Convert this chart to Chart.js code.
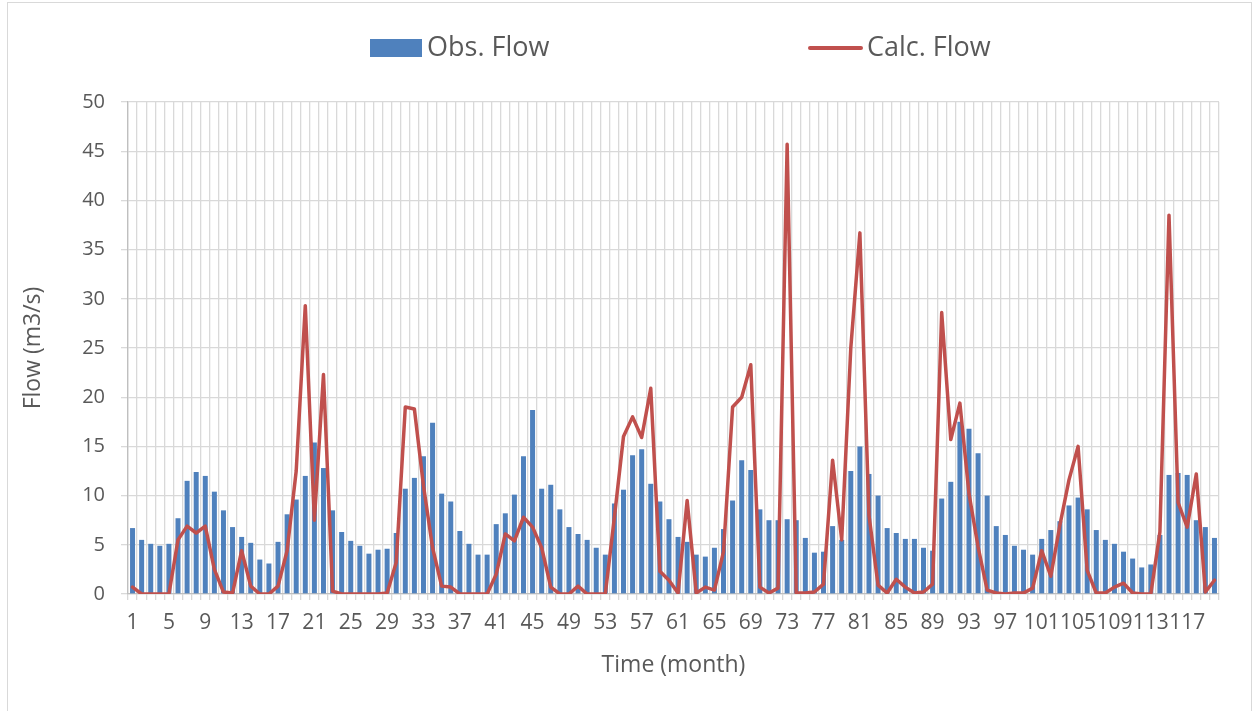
<!DOCTYPE html>
<html>
<head>
<meta charset="utf-8">
<script src="https://cdn.jsdelivr.net/npm/chart.js@4/dist/chart.umd.min.js"></script>
<style>
  html, body { margin: 0; padding: 0; background: #fff; overflow: hidden; }
  #frame { position: absolute; left: 7px; top: 2px; width: 1243px; height: 730px; border: 1px solid #d9d9d9; }
  #chart { position: absolute; left: 0; top: 0; }
</style>
</head>
<body>
<div id="frame"></div>
<canvas id="chart" width="1259" height="711"></canvas>
<script>
// monthly flows, months 1..120
const months = Array.from({ length: 120 }, (_, i) => String(i + 1));

const obsFlow = [
  6.7, 5.5, 5.1, 4.9, 5.1, 7.7, 11.5, 12.4, 12.0, 10.4,
  8.5, 6.8, 5.8, 5.2, 3.5, 3.1, 5.3, 8.1, 9.6, 12.0,
  15.4, 12.8, 8.5, 6.3, 5.4, 4.9, 4.1, 4.5, 4.6, 6.2,
  10.7, 11.8, 14.0, 17.4, 10.2, 9.4, 6.4, 5.1, 4.0, 4.0,
  7.1, 8.2, 10.1, 14.0, 18.7, 10.7, 11.1, 8.6, 6.8, 6.1,
  5.5, 4.7, 4.0, 9.2, 10.6, 14.1, 14.7, 11.2, 9.4, 7.6,
  5.8, 5.3, 4.0, 3.8, 4.7, 6.6, 9.5, 13.6, 12.6, 8.6,
  7.5, 7.5, 7.6, 7.5, 5.7, 4.2, 4.3, 6.9, 5.5, 12.5,
  15.0, 12.2, 10.0, 6.7, 6.2, 5.6, 5.6, 4.7, 4.4, 9.7,
  11.4, 17.5, 16.8, 14.3, 10.0, 6.9, 6.0, 4.9, 4.5, 4.0,
  5.6, 6.5, 7.4, 9.0, 9.8, 8.6, 6.5, 5.5, 5.1, 4.3,
  3.6, 2.7, 3.0, 6.0, 12.1, 12.3, 12.1, 7.5, 6.8, 5.7
];

const calcFlow = [
  0.7, 0, 0, 0, 0, 5.5, 6.9, 6.2, 6.9, 2.5,
  0.2, 0.1, 4.4, 0.8, 0, 0, 0.8, 4.4, 12.5, 29.3,
  7.5, 22.3, 0.3, 0, 0, 0, 0, 0, 0.1, 3.2,
  19.0, 18.8, 11.0, 4.7, 0.8, 0.7, 0, 0, 0, 0,
  2.0, 6.1, 5.4, 7.8, 6.8, 4.7, 0.7, 0, 0, 0.8,
  0, 0, 0, 7.8, 16.0, 18.0, 15.9, 20.9, 2.3, 1.4,
  0.1, 9.5, 0.1, 0.7, 0.4, 4.3, 19.0, 20.0, 23.3, 0.7,
  0.1, 0.6, 45.7, 0.1, 0.1, 0.2, 1.0, 13.6, 5.5, 25.0,
  36.7, 8.0, 0.9, 0.1, 1.5, 0.7, 0.1, 0.2, 1.0, 28.6,
  15.7, 19.4, 10.2, 4.8, 0.4, 0.1, 0, 0.1, 0.1, 0.6,
  4.4, 1.8, 7.0, 11.6, 15.0, 2.4, 0.1, 0.1, 0.7, 1.1,
  0.1, 0, 0, 6.3, 38.5, 9.3, 6.8, 12.2, 0.2, 1.4
];

const yTicks = { min: 0, max: 50, step: 5 };

const BLUE = '#4F81BD';
const RED = '#C0504D';
const GRID = '#d9d9d9';
const TEXT = '#595959';
const FONT = "'Open Sans', sans-serif";

// legend drawn by hand so it can sit where the original one sits
const manualLegend = {
  id: 'manualLegend',
  afterDraw(chart) {
    const ctx = chart.ctx;
    const ds = chart.data.datasets;
    const y = 48;
    ctx.save();
    ctx.font = '27px ' + FONT;
    ctx.fillStyle = TEXT;
    ctx.textBaseline = 'middle';

    ctx.fillStyle = ds[0].backgroundColor;
    ctx.fillRect(370, 39, 52, 18);
    ctx.fillStyle = TEXT;
    ctx.fillText(ds[0].label, 427, y);

    ctx.strokeStyle = ds[1].borderColor;
    ctx.lineWidth = 4;
    ctx.lineCap = 'round';
    ctx.beginPath();
    ctx.moveTo(810, y);
    ctx.lineTo(861, y);
    ctx.stroke();
    ctx.fillText(ds[1].label, 867, y);
    ctx.restore();
  }
};

new Chart(document.getElementById('chart'), {
  type: 'bar',
  data: {
    labels: months,
    datasets: [
      {
        type: 'bar',
        label: 'Obs. Flow',
        data: obsFlow,
        backgroundColor: BLUE,
        categoryPercentage: 1,
        barPercentage: 0.55,
        order: 1
      },
      {
        type: 'line',
        label: 'Calc. Flow',
        data: calcFlow,
        borderColor: RED,
        backgroundColor: RED,
        borderWidth: 3.5,
        borderJoinStyle: 'round',
        borderCapStyle: 'round',
        pointRadius: 0,
        tension: 0,
        order: 0
      }
    ]
  },
  options: {
    responsive: false,
    animation: false,
    layout: { padding: { left: 0, right: 40, top: 102, bottom: 0 } },
    plugins: {
      legend: { display: false },
      tooltip: { enabled: false }
    },
    scales: {
      x: {
        grid: { color: GRID, lineWidth: 1.3, tickLength: 6, offset: true },
        border: { color: '#bfbfbf', width: 1.3 },
        ticks: {
          autoSkip: false,
          maxRotation: 0,
          minRotation: 0,
          padding: 10,
          color: TEXT,
          font: { family: FONT, size: 21 },
          callback: (v, i) => (i % 4 === 0 ? months[i] : '')
        },
        title: {
          display: true,
          text: 'Time (month)',
          color: TEXT,
          font: { family: FONT, size: 23 },
          padding: { top: 0, bottom: 32 }
        },
        afterFit: s => { s.height = 117; }
      },
      y: {
        min: yTicks.min,
        max: yTicks.max,
        grid: { color: GRID, lineWidth: 1.3, tickLength: 7 },
        border: { color: '#bfbfbf', width: 1.3 },
        ticks: {
          stepSize: yTicks.step,
          padding: 16,
          color: TEXT,
          font: { family: FONT, size: 20 }
        },
        title: {
          display: true,
          text: 'Flow (m3/s)',
          color: TEXT,
          font: { family: FONT, size: 23 },
          padding: { top: 20, bottom: 0 }
        },
        afterFit: s => { s.width = 128; }
      }
    }
  },
  plugins: [manualLegend]
});
</script>
</body>
</html>
